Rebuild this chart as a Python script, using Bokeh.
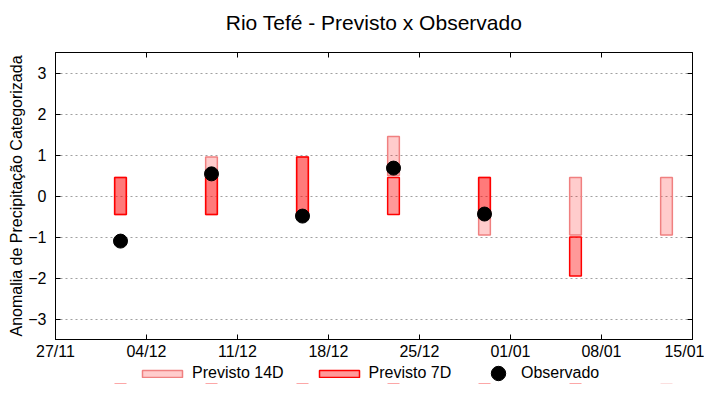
import pandas as pd
from bokeh.plotting import figure
from bokeh.layouts import column
from bokeh.models import (Range1d, FixedTicker, DatetimeTickFormatter, LinearAxis,
                          DatetimeAxis, Legend, LegendItem, Grid)
from bokeh.embed import file_html
from bokeh.resources import INLINE

# ---------------- data ----------------
dates = ["2023-12-02", "2023-12-09", "2023-12-16", "2023-12-23",
         "2023-12-30", "2024-01-06", "2024-01-13"]
fc14_low = [-0.45, -0.45, -0.45, 0.5, -0.95, -0.95, -0.95]
fc14_high = [0.45, 0.95, 0.95, 1.45, 0.45, 0.45, 0.45]

fc7_dates = dates[:6]
fc7_low = [-0.45, -0.45, -0.45, -0.45, -0.45, -1.95]
fc7_high = [0.45, 0.45, 0.95, 0.45, 0.45, -1.0]

obs_dates = dates[:5]
obs_values = [-1.1, 0.54, -0.49, 0.68, -0.44]

x_ticks = ["2023-11-27", "2023-12-04", "2023-12-11", "2023-12-18",
           "2023-12-25", "2024-01-01", "2024-01-08", "2024-01-15"]
y_ticks = [-3, -2, -1, 0, 1, 2, 3]
y_min, y_max = -3.5, 3.5

title_text = "Rio Tefé - Previsto x Observado"
y_label = "Anomalia de Precipitação Categorizada"
labels = ["Previsto 14D", "Previsto 7D", "Observado"]

# ---------------- styles ----------------
FONT = "Liberation Sans"
S14 = dict(fill_color="#ff0000", fill_alpha=0.2, line_color="#f08080", line_width=1.5)
S7 = dict(fill_color="#ff0000", fill_alpha=0.4, line_color="#ff0000", line_width=1.5)
SOB = dict(marker="circle", fill_color="#000000", line_color="#000000")

# ---------------- main plot ----------------
d14 = pd.to_datetime(dates)
d7 = pd.to_datetime(fc7_dates)
dob = pd.to_datetime(obs_dates)
xt = pd.to_datetime(x_ticks)
xt_ms = [t.value // 10**6 for t in xt]
bar_w = 0.9 * 86400000

p = figure(width=704, height=362, output_backend="svg", toolbar_location=None,
           x_axis_type=None, y_axis_type=None,
           x_range=Range1d(xt[0], xt[-1]), y_range=Range1d(y_min, y_max),
           min_border_left=55, min_border_right=12, min_border_top=52,
           min_border_bottom=23)
p.outline_line_color = "#000000"
p.outline_line_alpha = 1.0
p.outline_line_width = 1
p.background_fill_color = "white"
p.border_fill_color = "white"

xticker = FixedTicker(ticks=xt_ms)
yticker = FixedTicker(ticks=y_ticks)
fmt = "%d/%m"
xfmt = DatetimeTickFormatter(milliseconds=fmt, seconds=fmt, minsec=fmt, minutes=fmt,
                             hourmin=fmt, hours=fmt, days=fmt, months=fmt, years=fmt)


def style_axis(ax, show_labels=True):
    ax.major_tick_in = 5
    ax.major_tick_out = 0
    ax.minor_tick_line_color = None
    ax.axis_line_color = "#000000"
    ax.major_tick_line_color = "#000000"
    ax.major_label_text_font = FONT
    if show_labels:
        ax.major_label_text_font_size = "16px"
        ax.major_label_text_color = "#000000"
    else:
        ax.major_label_text_font_size = "1px"
        ax.major_label_text_color = None
        ax.major_label_standoff = 0


xb = DatetimeAxis(ticker=xticker, formatter=xfmt)
style_axis(xb)
xb.major_label_standoff = 3
# top axis: mirrored ticks, carries the chart title centred over the frame
xtop = DatetimeAxis(ticker=xticker, formatter=xfmt, axis_label=title_text)
style_axis(xtop, False)
xtop.axis_label_text_font = FONT
xtop.axis_label_text_font_size = "21px"
xtop.axis_label_text_font_style = "normal"
xtop.axis_label_text_color = "#000000"
xtop.axis_label_standoff = 19
yl = LinearAxis(ticker=yticker, axis_label=y_label)
style_axis(yl)
yl.major_label_standoff = 9
yl.axis_label_text_font = FONT
yl.axis_label_text_font_size = "16px"
yl.axis_label_text_font_style = "normal"
yl.axis_label_text_color = "#000000"
yl.axis_label_standoff = 0
yr = LinearAxis(ticker=yticker)
style_axis(yr, False)

p.add_layout(xb, "below")
p.add_layout(xtop, "above")
p.add_layout(yl, "left")
p.add_layout(yr, "right")

p.add_layout(Grid(dimension=1, ticker=yticker, grid_line_color="#a0a0a0",
                  grid_line_dash="2 3", grid_line_width=1))

p.vbar(x=d14, width=bar_w, bottom=fc14_low, top=fc14_high, **S14)
p.vbar(x=d7, width=bar_w, bottom=fc7_low, top=fc7_high, **S7)
p.scatter(x=dob, y=obs_values, size=14, **SOB)

# ---------------- legend strip (below the plot) ----------------
# same time axis, but a value window far above the data: the key renderers
# exist only so that the legend can draw their swatches
lg = figure(width=704, height=22, output_backend="svg", toolbar_location=None,
            x_axis_type=None, y_axis_type=None, min_border=0,
            x_range=Range1d(xt[0], xt[-1]), y_range=Range1d(40, 41))
lg.outline_line_color = None
lg.background_fill_color = "white"
lg.border_fill_color = "white"
k14 = lg.vbar(x=d14, width=bar_w, bottom=fc14_low, top=fc14_high, **S14)
k7 = lg.vbar(x=d7, width=bar_w, bottom=fc7_low, top=fc7_high, **S7)
kob = lg.scatter(x=dob, y=obs_values, size=14, **SOB)

leg_style = dict(orientation="horizontal", label_standoff=5, padding=0, margin=0,
                 border_line_color=None, background_fill_alpha=0,
                 label_text_font=FONT, label_text_font_size="16px",
                 label_text_color="#000000")
leg_a = Legend(items=[LegendItem(label=labels[0], renderers=[k14]),
                      LegendItem(label=labels[1], renderers=[k7])],
               location=(82, 2), glyph_width=50, glyph_height=9, spacing=30,
               **leg_style)
leg_b = Legend(items=[LegendItem(label=labels[2], renderers=[kob])],
               location=(425, -7), glyph_width=36, glyph_height=36, **leg_style)
lg.add_layout(leg_a)
lg.add_layout(leg_b)

layout = column(p, lg, spacing=0)
open("out.html", "w").write(file_html(layout, INLINE))
